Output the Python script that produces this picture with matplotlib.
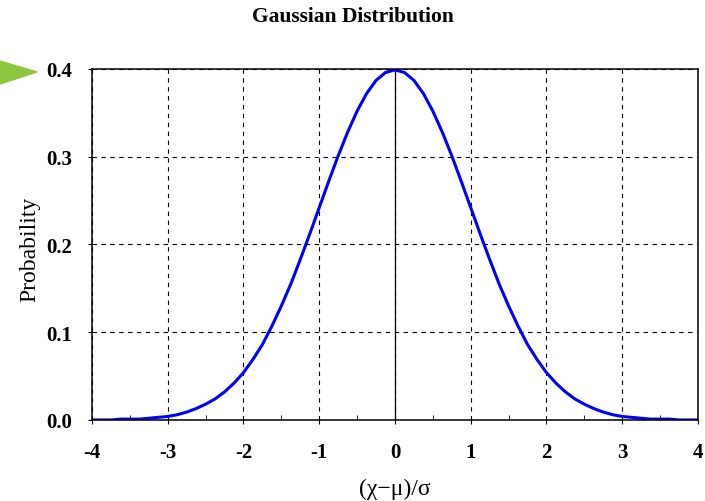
import numpy as np
import matplotlib.pyplot as plt
from matplotlib.patches import Polygon

# values
z = [-4.0, -3.875, -3.75, -3.625, -3.5, -3.375, -3.25, -3.125, -3.0, -2.875,
     -2.75, -2.625, -2.5, -2.375, -2.25, -2.125, -2.0, -1.875, -1.75, -1.625,
     -1.5, -1.375, -1.25, -1.125, -1.0, -0.875, -0.75, -0.625, -0.5, -0.375,
     -0.25, -0.125, 0.0, 0.125, 0.25, 0.375, 0.5, 0.625, 0.75, 0.875, 1.0,
     1.125, 1.25, 1.375, 1.5, 1.625, 1.75, 1.875, 2.0, 2.125, 2.25, 2.375,
     2.5, 2.625, 2.75, 2.875, 3.0, 3.125, 3.25, 3.375, 3.5, 3.625, 3.75,
     3.875, 4.0]
prob = [0.000, 0.000, 0.000, 0.001, 0.001, 0.001, 0.002, 0.003, 0.004, 0.006,
        0.009, 0.013, 0.018, 0.024, 0.032, 0.042, 0.054, 0.069, 0.086, 0.107,
        0.130, 0.155, 0.183, 0.212, 0.242, 0.272, 0.301, 0.328, 0.352, 0.372,
        0.387, 0.396, 0.399, 0.396, 0.387, 0.372, 0.352, 0.328, 0.301, 0.272,
        0.242, 0.212, 0.183, 0.155, 0.130, 0.107, 0.086, 0.069, 0.054, 0.042,
        0.032, 0.024, 0.018, 0.013, 0.009, 0.006, 0.004, 0.003, 0.002, 0.001,
        0.001, 0.001, 0.000, 0.000, 0.000]
x_ticks = [-4, -3, -2, -1, 0, 1, 2, 3, 4]
y_ticks = [0.0, 0.1, 0.2, 0.3, 0.4]

plt.rcParams['font.family'] = ['Liberation Serif', 'DejaVu Serif']

fig = plt.figure(figsize=(7.05, 5.02), dpi=100)
ax = fig.add_axes([0.1305, 0.1614, 0.8595, 0.6992])
ax.set_axisbelow(True)

ax.plot(z, prob, color='#0000ff', lw=2.2, zorder=3)
ax.axvline(0, color='black', lw=0.9, zorder=2)

ax.set_xlim(-4, 4)
ax.set_ylim(0, 0.4)
ax.set_xticks(x_ticks)
ax.set_xticklabels([str(t) for t in x_ticks], fontsize=15, fontweight='bold')
ax.set_yticks(y_ticks)
ax.set_yticklabels([f'{t:.1f}' for t in y_ticks], fontsize=15, fontweight='bold')
ax.set_xticks(np.arange(-3.5, 4, 1.0), minor=True)
ax.tick_params(axis='x', which='major', direction='out', length=3, pad=13)
ax.tick_params(axis='x', which='minor', direction='in', length=3.5)
ax.tick_params(axis='y', which='major', direction='out', length=3, pad=11)

ax.grid(True, which='major', color='black', linestyle=(0, (4, 4)), lw=0.8)
for s in ax.spines.values():
    s.set_linewidth(1.1)
    s.set_zorder(4)

ax.set_xlabel('(χ−μ)/σ', fontsize=17)
ax.xaxis.set_label_coords(0.5, -0.165)
ax.set_ylabel('Probability', fontsize=17)
ax.yaxis.set_label_coords(-0.086, 0.49)
fig.text(0.5, 0.967, 'Gaussian Distribution', ha='center', va='center',
         fontsize=15.5, fontweight='bold')

# green marker pointing at the 0.4 tick
tri = Polygon([[0, 1 - 62 / 502], [37 / 705, 1 - 73 / 502], [0, 1 - 85 / 502]],
              closed=True, transform=fig.transFigure, color='#8dc63f')
fig.patches.append(tri)

fig.savefig('out.png', dpi=100)
